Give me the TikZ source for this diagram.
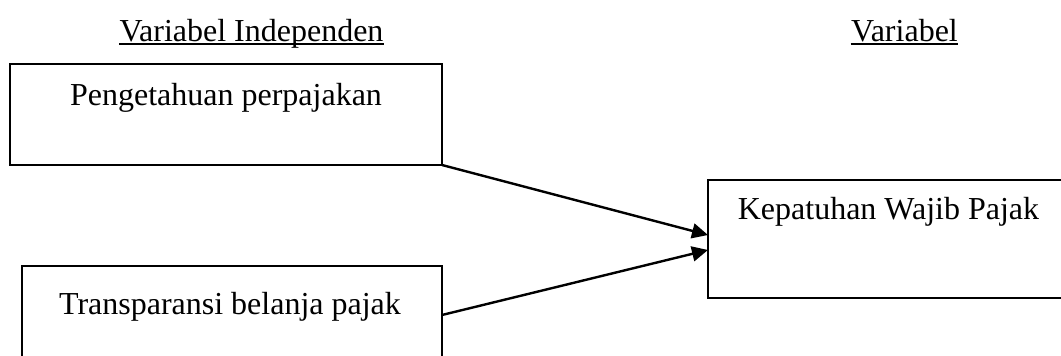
\documentclass[tikz,border=0pt]{standalone}
\usepackage{fontspec}
\setmainfont{Liberation Serif}
\usetikzlibrary{arrows.meta}
\begin{document}
\begin{tikzpicture}[x=0.375pt,y=-0.375pt,
  box/.style={draw,line width=0.9pt,rectangle,inner sep=0pt,outer sep=0pt,anchor=north west},
  lbl/.style={inner sep=0pt,anchor=base,font=\fontsize{12pt}{14pt}\selectfont},
  arr/.style={line width=0.9pt,-{Triangle[length=6pt,width=5.6pt]}},
  uln/.style={line width=0.55pt}]
\useasboundingbox (0,0) rectangle (1061,356);
\clip (0,0) rectangle (1061,356);
% titles
\node[lbl] (t1) at (251.5,42) {Variabel Independen};
\node[lbl] (t2) at (904.5,42) {Variabel};
\draw[uln] ([yshift=-0.7pt]t1.base west) -- ([yshift=-0.7pt]t1.base east);
\draw[uln] ([yshift=-0.7pt]t2.base west) -- ([yshift=-0.7pt]t2.base east);
% boxes
\node[box,minimum width=432*0.375pt,minimum height=101*0.375pt] (b1) at (10,64) {};
\node[box,minimum width=420*0.375pt,minimum height=110*0.375pt] (b2) at (22,266) {};
\node[box,minimum width=370*0.375pt,minimum height=118*0.375pt] (b3) at (708,180) {};
% texts
\node[lbl] (x1) at (226,106) {Pengetahuan perpajakan};
\node[lbl] (x2) at (230,315) {Transparansi belanja pajak};
\node[lbl] (x3) at (888.5,220) {Kepatuhan Wajib Pajak};
% connectors
\coordinate (s2) at (442,315);
\coordinate (e1) at (708,235);
\coordinate (e2) at (708,250);
\draw[arr] (b1.south east) -- (e1);
\draw[arr] (s2) -- (e2);
\end{tikzpicture}
\end{document}
